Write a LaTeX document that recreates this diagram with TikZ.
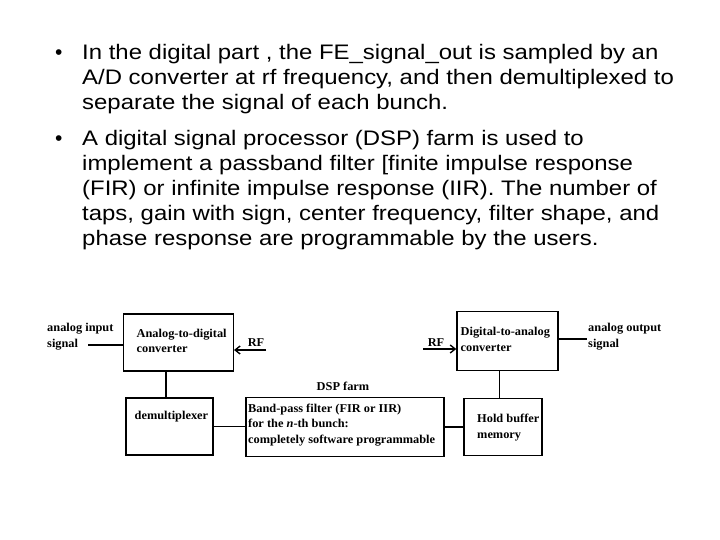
\documentclass[tikz,border=0pt]{standalone}
\usepackage{fontspec}
\setmainfont{Liberation Sans}
\newfontfamily\bodyfont[FakeStretch=1.14]{Liberation Sans}
\newfontfamily\diagfont[FakeStretch=1.03]{Liberation Serif}
\usetikzlibrary{arrows.meta}
\tikzset{
  txt/.style={anchor=base west, inner sep=0pt, font=\bodyfont\fontsize{21}{25}\selectfont},
  blt/.style={anchor=base west, inner sep=0pt, font=\fontsize{21}{25}\selectfont},
  box/.style={draw, line width=1.4pt, inner sep=0pt},
  lbl/.style={anchor=west, inner sep=0pt, align=left, font=\diagfont\bfseries\fontsize{12}{15.7}\selectfont},
  conn/.style={line width=1.4pt},
  arr/.style={line width=1.4pt, -{Straight Barb[length=5pt,width=8pt]}}
}
\begin{document}
\begin{tikzpicture}[x=1pt,y=-1pt]
\useasboundingbox (0,0) rectangle (720,540);
% bullets
\node[blt] (b1) at (55,60) {•};
\node[txt] (t1) at (82,60) {In the digital part , the FE\_signal\_out is sampled by an};
\node[txt] (t2) at (82,85) {A/D converter at rf frequency, and then demultiplexed to};
\node[txt] (t3) at (82,110) {separate the signal of each bunch.};
\node[blt] (b2) at (55,145.7) {•};
\node[txt] (t4) at (82,145.7) {A digital signal processor (DSP) farm is used to};
\node[txt] (t5) at (82,170.7) {implement a passband filter [finite impulse response};
\node[txt] (t6) at (82,195.7) {(FIR) or infinite impulse response (IIR). The number of};
\node[txt] (t7) at (82,220.7) {taps, gain with sign, center frequency, filter shape, and};
\node[txt] (t8) at (82,245.7) {phase response are programmable by the users.};
% boxes
\node[box, minimum width=110pt, minimum height=57pt] (adc) at (178.3,342.3) {};
\node[box, minimum width=87pt, minimum height=57pt] (demux) at (169.6,426.5) {};
\node[box, minimum width=198pt, minimum height=59pt] (bpf) at (344.9,427) {};
\node[box, minimum width=78pt, minimum height=57pt] (hold) at (503,427) {};
\node[box, minimum width=101pt, minimum height=59pt] (dac) at (507.5,341.2) {};
% labels
\node[lbl] (adct) at (136.5,341) {Analog-to-digital\\converter};
\node[lbl] (demt) at (134.5,417) {demultiplexer};
\node[lbl] (bpft) at (248,425) {Band-pass filter (FIR or IIR)\\for the \textit{n}-th bunch:\\completely software programmable};
\node[lbl] (holdt) at (477,427.5) {Hold buffer\\memory};
\node[lbl] (dact) at (460.5,339.5) {Digital-to-analog\\converter};
\node[lbl] (ain) at (47,336.5) {analog input\\signal};
\node[lbl] (aout) at (588,336.5) {analog output\\signal};
\node[lbl, anchor=center] (dsp) at (343,386) {DSP farm};
\node[lbl, anchor=center] (rf1) at (256,342.5) {RF};
\node[lbl, anchor=center] (rf2) at (436,342.5) {RF};
% helper coordinates
\coordinate (inS) at (88,345);
\coordinate (rf1S) at (266,350);
\coordinate (rf2S) at (423,349);
\coordinate (outE) at (587,339);
\coordinate (v1) at (166,0);
\coordinate (v2) at (499.3,0);
% connectors
\draw[conn] (inS) -- (inS -| adc.west);
\draw[arr] (rf1S) -- (rf1S -| adc.east);
\draw[arr] (rf2S) -- (rf2S -| dac.west);
\draw[conn] (outE -| dac.east) -- (outE);
\draw[conn] (adc.south -| v1) -- (demux.north -| v1);
\draw[conn] (dac.south -| v2) -- (hold.north -| v2);
\draw[conn] (demux.east) -- (demux.east -| bpf.west);
\draw[conn] (bpf.east |- hold.west) -- (hold.west);
\end{tikzpicture}
\end{document}
